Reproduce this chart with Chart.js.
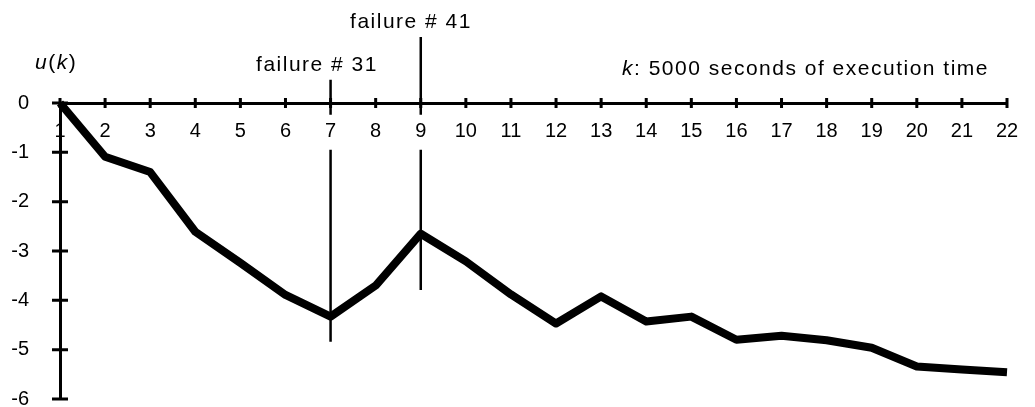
<!DOCTYPE html>
<html>
<head>
<meta charset="utf-8">
<script src="https://cdn.jsdelivr.net/npm/chart.js@4.4.0/dist/chart.umd.min.js"></script>
<style>
    html, body { margin: 0; padding: 0; background: #fff; }
    #wrap { width: 1035px; height: 407px; }
</style>
</head>
<body>
<div id="wrap"><canvas id="Chart_U" width="1035" height="407"></canvas></div>
<script>
// dữ liệu
var k_values = [1, 2, 3, 4, 5, 6, 7, 8, 9, 10, 11, 12, 13, 14, 15, 16, 17, 18, 19, 20, 21, 22];
var u_values = [0, -1.09, -1.40, -2.61, -3.24, -3.89, -4.33, -3.70, -2.65, -3.21, -3.88, -4.47,
                -3.92, -4.43, -4.33, -4.80, -4.72, -4.81, -4.96, -5.34, -5.40, -5.46];
var y_tick_values = [0, -1, -2, -3, -4, -5, -6];
var y_tick_labels = ['0', '-1', '-2', '-3', '-4', '-5', '-6'];

// các đường failure (k, đầu trên, đầu dưới)
var failure_k = [7, 9];
var failure_names = ['failure # 31', 'failure # 41'];
var failure_top = [0.47, 1.34];
var failure_bottom = [-4.84, -3.79];
var label_gap = [-0.24, -0.95];   // chỗ hở cho số trên trục x

var FONT = '"Liberation Sans", Arial, Helvetica, sans-serif';

// vẽ vạch chia cắt qua trục và các dòng chữ
const plugin = {
    id: 'cross_ticks_text',
    afterDraw: (chart) => {
        const ctx = chart.ctx;
        const xs = chart.scales.x;
        const ys = chart.scales.y;
        const x0 = xs.getPixelForValue(1);
        const y0 = ys.getPixelForValue(0);
        ctx.save();
        ctx.strokeStyle = '#000';
        ctx.lineWidth = 3;
        ctx.beginPath();
        y_tick_values.forEach(function (v) {
            const py = ys.getPixelForValue(v);
            ctx.moveTo(x0 - 8, py);
            ctx.lineTo(x0 + 8, py);
        });
        k_values.forEach(function (k) {
            const px = xs.getPixelForValue(k);
            ctx.moveTo(px, y0 - 5);
            ctx.lineTo(px, y0 + 5);
        });
        ctx.stroke();

        ctx.fillStyle = '#000';
        ctx.textBaseline = 'middle';
        ctx.letterSpacing = '1.5px';
        ctx.font = '21px ' + FONT;
        ctx.textAlign = 'center';
        ctx.fillText(failure_names[0], 317, 65);
        ctx.fillText(failure_names[1], 411, 22);

        // u(k) và k: ...
        ctx.textAlign = 'left';
        function drawParts(parts, x, y) {
            parts.forEach(function (p) {
                ctx.font = (p[1] ? 'italic ' : '') + '21px ' + FONT;
                ctx.fillText(p[0], x, y);
                x += ctx.measureText(p[0]).width;
            });
        }
        drawParts([['u', true], ['(', false], ['k', true], [')', false]], 35, 63);
        drawParts([['k', true], [': 5000 seconds of execution time', false]], 622, 69);
        ctx.restore();
    }
};

var datasets = [{
    data: k_values.map(function (k, i) { return { x: k, y: u_values[i] }; }),
    borderColor: '#000',
    borderWidth: 8,
    pointRadius: 0,
    tension: 0,
    borderJoinStyle: 'round',
    clip: false
}];
failure_k.forEach(function (k, i) {
    datasets.push({
        data: [
            { x: k, y: failure_top[i] },
            { x: k, y: label_gap[0] },
            { x: k, y: null },
            { x: k, y: label_gap[1] },
            { x: k, y: failure_bottom[i] }
        ],
        borderColor: '#000',
        borderWidth: 2.5,
        pointRadius: 0,
        spanGaps: false,
        clip: false
    });
});

var ctx1 = document.getElementById('Chart_U');
var Chart_U = new Chart(ctx1, {
    type: 'line',
    data: { datasets: datasets },
    options: {
        responsive: false,
        animation: false,
        devicePixelRatio: 1,
        plugins: {
            legend: { display: false },
            tooltip: { enabled: false }
        },
        layout: {
            padding: { left: 0, right: 28, top: 103, bottom: 8 }
        },
        scales: {
            // trục x nằm ở y = 0 (mép trên), số ghi ở phía dưới trục
            x: {
                type: 'linear',
                position: 'top',
                min: 1,
                max: 22,
                afterFit: function (scale) { scale.height = 0; },
                grid: { display: true, drawOnChartArea: false, drawTicks: false },
                border: { display: true, color: '#000', width: 3 },
                ticks: {
                    stepSize: 1,
                    mirror: true,
                    padding: 16,
                    color: '#000',
                    maxRotation: 0,
                    autoSkip: false,
                    font: { family: FONT, size: 20 },
                    callback: function (v) { return String(v); }
                }
            },
            y: {
                type: 'linear',
                position: 'left',
                min: -6,
                max: 0,
                afterFit: function (scale) {
                    scale.width = 60;
                    scale.paddingTop = 0;
                    scale.paddingBottom = 0;
                },
                grid: { display: true, drawOnChartArea: false, drawTicks: false },
                border: { display: true, color: '#000', width: 3 },
                ticks: {
                    stepSize: 1,
                    padding: 31,
                    color: '#000',
                    font: { family: FONT, size: 20 },
                    callback: function (v) {
                        var i = y_tick_values.indexOf(v);
                        return i >= 0 ? y_tick_labels[i] : '';
                    }
                }
            }
        }
    },
    plugins: [plugin]
});
</script>
</body>
</html>
